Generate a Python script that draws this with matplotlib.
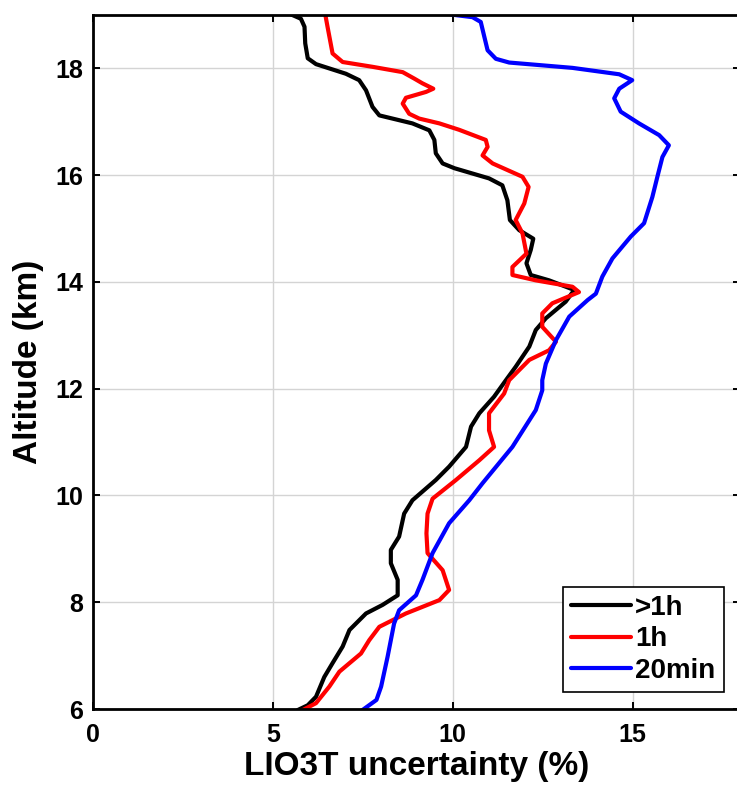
import matplotlib
matplotlib.use("Agg")
import matplotlib.pyplot as plt

plt.rcParams['font.family'] = ['Liberation Sans', 'DejaVu Sans']
plt.rcParams['font.weight'] = 'bold'

# >1h
unc_1h_plus = [5.51, 5.78, 5.88, 5.90, 5.97, 6.20, 7.03, 7.40, 7.59, 7.77, 7.96, 8.88, 9.35,
               9.49, 9.53, 9.72, 10.05, 11.01, 11.38, 11.52, 11.59, 11.85, 12.24, 12.17,
               12.05, 12.17, 12.68, 13.38, 13.14, 12.59, 12.31, 12.13, 11.75, 11.48, 11.15,
               10.74, 10.51, 10.37, 9.90, 9.53, 8.88, 8.65, 8.51, 8.28, 8.28, 8.47, 8.47,
               8.05, 7.59, 7.13, 6.94, 6.66, 6.43, 6.20, 5.97, 5.69]
alt_1h_plus = [19.01, 18.93, 18.78, 18.47, 18.19, 18.08, 17.90, 17.78, 17.59, 17.28, 17.12,
               16.97, 16.84, 16.66, 16.41, 16.22, 16.13, 15.94, 15.81, 15.53, 15.16, 14.97,
               14.81, 14.60, 14.35, 14.13, 14.03, 13.85, 13.63, 13.32, 13.10, 12.79, 12.41,
               12.16, 11.85, 11.54, 11.29, 10.91, 10.54, 10.29, 9.91, 9.66, 9.23, 8.98, 8.73,
               8.42, 8.13, 7.95, 7.79, 7.48, 7.17, 6.86, 6.60, 6.23, 6.07, 5.98]

# 1h
unc_1h = [6.46, 6.52, 6.59, 6.66, 6.94, 7.77, 8.61, 8.93, 9.16, 9.46, 9.26, 8.70, 8.61,
          8.79, 9.07, 9.63, 10.18, 10.92, 10.97, 10.83, 11.11, 11.94, 12.11, 11.99, 11.75,
          11.94, 12.05, 11.66, 11.66, 12.31, 13.33, 13.51, 12.77, 12.49, 12.49, 12.87,
          12.68, 12.13, 11.57, 11.43, 11.01, 11.01, 11.15, 10.74, 10.09, 9.44, 9.30, 9.27,
          9.30, 9.72, 9.90, 9.63, 8.70, 7.96, 7.68, 7.45, 6.85, 6.57, 6.20, 5.83]
alt_1h = [19.00, 18.78, 18.53, 18.28, 18.12, 18.03, 17.93, 17.81, 17.72, 17.62, 17.56, 17.45,
          17.34, 17.15, 17.06, 16.97, 16.85, 16.66, 16.53, 16.37, 16.22, 15.97, 15.78, 15.47,
          15.16, 14.91, 14.53, 14.28, 14.13, 14.03, 13.91, 13.81, 13.60, 13.41, 13.16, 12.88,
          12.72, 12.54, 12.16, 11.91, 11.54, 11.22, 10.91, 10.66, 10.29, 9.94, 9.66, 9.29,
          8.92, 8.60, 8.23, 8.04, 7.79, 7.54, 7.29, 7.04, 6.70, 6.42, 6.11, 5.98]

# 20min
unc_20min = [9.95, 10.55, 10.78, 10.88, 10.97, 11.20, 11.57, 13.33, 14.63, 14.99, 14.63,
             14.49, 14.67, 15.18, 15.74, 16.01, 15.83, 15.69, 15.55, 15.32, 14.95, 14.44,
             14.16, 13.98, 13.75, 13.24, 12.87, 12.59, 12.49, 12.49, 12.31, 11.66, 10.83,
             10.46, 9.90, 9.44, 9.16, 8.98, 8.51, 8.37, 8.19, 8.01, 7.88, 7.49]
alt_20min = [19.01, 18.96, 18.87, 18.59, 18.34, 18.18, 18.11, 18.01, 17.89, 17.78, 17.62,
             17.44, 17.19, 16.97, 16.75, 16.56, 16.34, 15.97, 15.59, 15.10, 14.85, 14.44,
             14.10, 13.78, 13.66, 13.35, 12.91, 12.47, 12.16, 11.97, 11.60, 10.91, 10.23,
             9.91, 9.48, 8.92, 8.42, 8.13, 7.85, 7.60, 6.98, 6.42, 6.17, 5.98]

fig = plt.figure(figsize=(7.37, 7.87), dpi=100)
# right edge of the box falls just outside the image, as in the original
ax = fig.add_axes([0.1262, 0.0991, 0.8785, 0.8818])

line_kw = dict(lw=3.0, solid_joinstyle='round', solid_capstyle='round')
ax.plot(unc_1h_plus, alt_1h_plus, color='black', label='>1h', **line_kw)
ax.plot(unc_1h, alt_1h, color='#ff0000', label='1h', **line_kw)
ax.plot(unc_20min, alt_20min, color='#0000ff', label='20min', **line_kw)

ax.set_xlim(0, 18)
ax.set_ylim(6, 19)
ax.set_xticks([0, 5, 10, 15])
ax.set_yticks([6, 8, 10, 12, 14, 16, 18])
ax.grid(True, color='#d4d4d4', lw=1.0)
ax.tick_params(direction='in', top=True, right=True, length=5, width=1.4, labelsize=18)
ax.tick_params(axis='y', pad=7)
ax.tick_params(axis='x', pad=10)
for s in ax.spines.values():
    s.set_linewidth(2.0)
ax.spines['right'].set_visible(False)

ax.set_xlabel('LIO3T uncertainty (%)', fontsize=24, fontweight='bold', labelpad=3)
ax.set_ylabel('Altitude (km)', fontsize=24, fontweight='bold', labelpad=8)

leg = ax.legend(loc='lower right', fontsize=20, fancybox=False, framealpha=1,
                edgecolor='black', handlelength=2.15, handletextpad=0.15,
                labelspacing=0.2, borderpad=0.3, borderaxespad=0.6)
leg.get_frame().set_linewidth(1.2)
for t in leg.get_texts():
    t.set_fontweight('bold')

fig.savefig('out.png', dpi=100)
